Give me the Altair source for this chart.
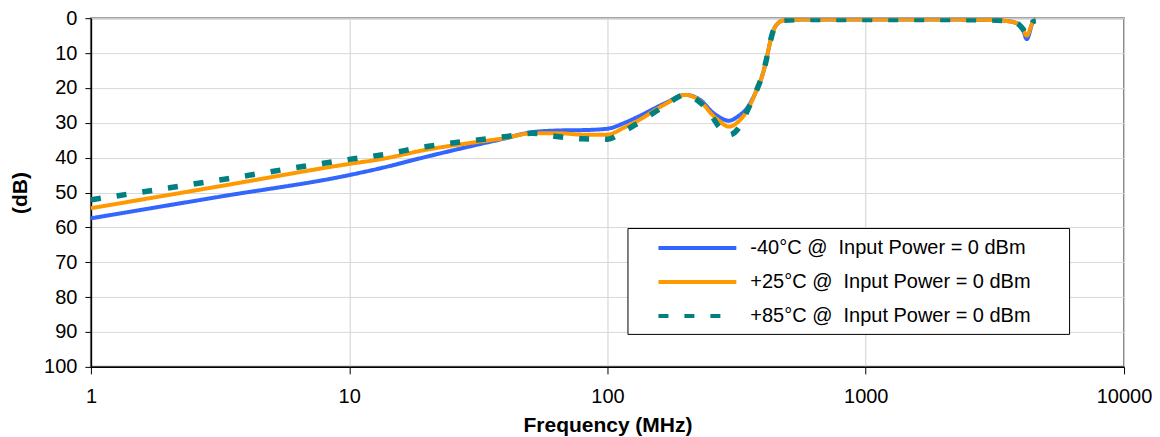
import altair as alt
import pandas as pd

# Frequency points (MHz)
freq = [1, 3.15, 10, 13.1, 20, 30, 40, 51, 65, 80, 100, 115, 131, 167, 200, 231, 253,
        270, 295, 325, 344, 381, 400, 412, 425, 437, 457, 484, 580, 1000, 2000, 3000,
        3500, 3860, 4050, 4200, 4450, 4550]

# Attenuation (dB) per temperature
db_m40 = [57.4, 51.2, 45.0, 43.1, 39.7, 36.6, 34.5, 32.7, 32.2, 32.1, 31.7, 30.2, 28.3,
          24.4, 22.0, 23.7, 26.8, 28.3, 29.4, 27.8, 26.2, 20.0, 15.8, 12.0, 7.3, 3.9, 1.5,
          0.6, 0.4, 0.4, 0.4, 0.5, 0.8, 1.5, 3.0, 6.0, 1.0, 0.7]
db_p25 = [54.5, 48.2, 41.8, 40.5, 37.7, 35.7, 34.4, 33.0, 33.0, 33.4, 33.4, 31.5, 29.4,
          24.7, 22.0, 24.1, 27.5, 29.4, 31.1, 29.3, 27.0, 20.0, 15.8, 12.0, 7.3, 3.9, 1.5,
          0.6, 0.4, 0.4, 0.4, 0.5, 0.8, 1.5, 3.0, 5.0, 1.0, 0.7]
db_p85 = [52.1, 46.4, 40.5, 39.3, 36.8, 35.1, 34.0, 33.0, 34.0, 34.6, 34.7, 32.6, 30.1,
          25.1, 22.0, 24.5, 28.0, 31.1, 33.5, 31.1, 27.3, 20.0, 15.8, 12.0, 7.3, 3.9, 1.5,
          0.6, 0.4, 0.4, 0.4, 0.5, 0.8, 1.5, 3.0, 4.5, 1.0, 0.7]

PAD = "\u2800\u2800"
series_labels = [
    "-40°C @\u00a0 Input Power = 0 dBm" + PAD,
    "+25°C @\u00a0 Input Power = 0 dBm" + PAD,
    "+85°C @\u00a0 Input Power = 0 dBm" + PAD,
]
series_colors = ["#3366FF", "#FF9900", "#008080"]
series_dashes = [[1, 0], [1, 0], [10, 16]]
series_widths = [4, 4, 5.5]

x_ticks = [1, 10, 100, 1000, 10000]
y_ticks = list(range(0, 101, 10))

rows = []
for lab, vals in zip(series_labels, [db_m40, db_p25, db_p85]):
    for f, v in zip(freq, vals):
        rows.append({"freq": f, "db": v, "series": lab})
df = pd.DataFrame(rows)

FONT = "Liberation Sans"

x_enc = alt.X(
    "freq:Q",
    scale=alt.Scale(type="log", domain=[1, 10000], nice=False),
    axis=alt.Axis(values=x_ticks, format="d", title="Frequency (MHz)",
                  grid=True, gridColor="#d0d0d0", domainColor="#000000",
                  domainWidth=1.5, tickColor="#000000", tickSize=7,
                  labelPadding=13, titlePadding=8, labelFlush=False),
)
y_enc = alt.Y(
    "db:Q",
    scale=alt.Scale(domain=[0, 100], reverse=True, nice=False, zero=False),
    axis=alt.Axis(values=y_ticks, title="(dB)", grid=True, gridColor="#d9d9d9",
                  domainColor="#000000", domainWidth=1.5, tickColor="#000000",
                  tickSize=6, labelPadding=8, titlePadding=13),
)
color_enc = alt.Color("series:N", scale=alt.Scale(domain=series_labels, range=series_colors),
                      legend=alt.Legend(title=None))
dash_enc = alt.StrokeDash("series:N", scale=alt.Scale(domain=series_labels, range=series_dashes),
                          legend=alt.Legend(title=None))

layers = []
for lab, w in zip(series_labels, series_widths):
    layers.append(
        alt.Chart(df)
        .transform_filter(alt.FieldEqualPredicate(field="series", equal=lab))
        .mark_line(strokeWidth=w, interpolate="monotone", clip=True)
        .encode(x=x_enc, y=y_enc, color=color_enc, strokeDash=dash_enc)
    )

chart = (
    alt.layer(*layers)
    .properties(width=1034, height=349,
                padding={"left": 1, "top": 0, "right": 0, "bottom": 0})
    .configure_view(stroke="#888888", strokeWidth=2)
    .configure_axis(labelFont=FONT, labelFontSize=20, labelColor="#000000",
                    titleFont=FONT, titleFontSize=21, titleFontWeight="bold",
                    titleColor="#000000")
    .configure_legend(orient="none", legendX=537, legendY=210, padding=8,
                      symbolType="M-4,0H4", symbolSize=380, symbolStrokeWidth=4,
                      labelFont=FONT, labelFontSize=20, labelColor="#000000",
                      strokeColor="#000000", fillColor="#ffffff", rowPadding=12,
                      symbolOffset=50, labelOffset=41, labelLimit=700)
)

chart.save("out.html", embed_options={"renderer": "svg", "actions": False})
